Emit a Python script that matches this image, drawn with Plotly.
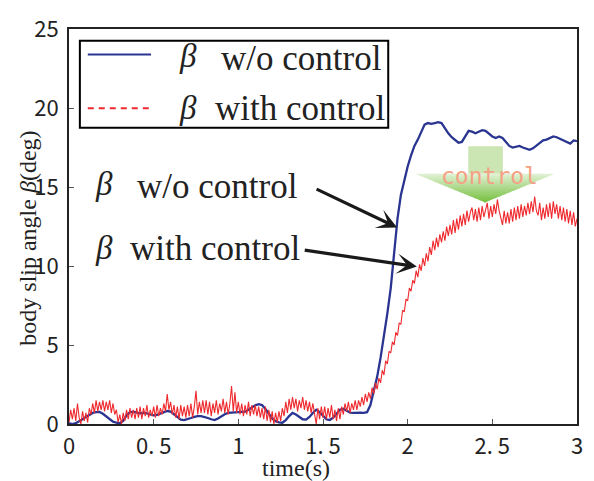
import numpy as np
import plotly.graph_objects as go

# ---------------- data ----------------
t_wo = np.round(np.arange(151) * 0.02, 2)          # time (s), 0.02 s steps
beta_wo = [
    0.05, 0.0, 0.05, 0.15, 0.3, 0.45, 0.6, 0.7, 0.75, 0.76,
    0.65, 0.5, 0.3, 0.15, 0.08, 0.05, 0.2, 0.55, 0.75, 0.78,
    0.72, 0.68, 0.7, 0.68, 0.6, 0.55, 0.58, 0.65, 0.75, 0.82,
    0.78, 0.6, 0.4, 0.27, 0.25, 0.3, 0.38, 0.45, 0.5, 0.5,
    0.45, 0.38, 0.3, 0.25, 0.35, 0.5, 0.62, 0.7, 0.72, 0.74,
    0.75, 0.76, 0.78, 0.9, 1.05, 1.18, 1.25, 1.2, 0.95, 0.65,
    0.35, 0.18, 0.1, 0.08, 0.25, 0.5, 0.7, 0.6, 0.45, 0.3,
    0.28, 0.45, 0.7, 0.9, 0.75, 0.5, 0.3, 0.25, 0.4, 0.65,
    0.9, 0.97, 0.85, 0.72, 0.7, 0.72, 0.72, 0.7, 0.75, 1.2,
    2.1, 3.0, 4.2, 5.5, 7.0, 8.6, 11.0, 13.0, 14.5, 15.5,
    16.3, 17.0, 17.6, 18.0, 18.5, 18.95, 19.05, 19.0, 19.05, 19.1,
    19.05, 18.7, 18.4, 18.15, 17.95, 17.8, 17.85, 18.2, 18.55, 18.5,
    18.4, 18.5, 18.6, 18.55, 18.35, 18.2, 18.1, 18.2, 18.1, 17.85,
    17.6, 17.5, 17.55, 17.6, 17.5, 17.4, 17.35, 17.45, 17.6, 17.8,
    17.95, 18.0, 18.1, 18.2, 18.15, 18.05, 18.0, 17.85, 17.75, 17.95,
    17.9,
]

t_with = np.round(np.arange(301) * 0.01, 2)        # time (s), 0.01 s steps
beta_with = [
    0.1, 0.9, 0.3, 1.0, 0.2, 1.3, 0.4, 0.0, 0.8, 0.2,
    0.7, 0.1, 1.0, 0.6, 1.3, 0.7, 1.5, 0.8, 1.4, 0.9,
    1.5, 0.8, 1.4, 0.9, 1.5, 0.7, 1.3, 0.6, 0.9, 0.1,
    0.6, 0.0, 0.7, 0.2, 0.9, 0.3, 1.0, 0.4, 0.9, 0.3,
    1.0, 0.4, 1.1, 0.3, 1.0, 0.5, 1.2, 0.4, 0.9, 0.5,
    1.1, 0.4, 1.2, 0.5, 1.0, 0.6, 1.3, 0.8, 1.9, 0.9,
    1.4, 0.6, 1.2, 0.4, 1.1, 0.3, 1.2, 0.5, 1.1, 0.4,
    1.2, 0.5, 1.3, 0.4, 1.1, 2.1, 0.6, 1.4, 0.7, 1.5,
    0.7, 1.5, 0.6, 1.4, 0.5, 1.3, 0.7, 1.5, 0.6, 1.3,
    0.8, 1.6, 0.7, 1.4, 0.6, 1.3, 2.4, 0.8, 2.0, 0.7,
    1.4, 0.6, 1.3, 0.5, 1.2, 0.6, 1.4, 0.5, 1.2, 0.6,
    1.2, 0.5, 1.1, 0.4, 1.0, 0.3, 1.1, 0.2, 0.9, 0.1,
    0.8, 0.0, 0.7, 0.1, 0.8, 0.2, 1.0, 0.5, 1.4, 0.7,
    1.6, 0.9, 1.7, 1.0, 1.6, 0.8, 1.5, 1.0, 1.7, 0.9,
    1.5, 0.8, 1.4, 0.7, 1.3, 0.6, 0.0, 1.0, 0.3, 1.1,
    0.4, 1.1, 0.3, 1.0, 0.4, 1.2, 0.3, 0.9, 0.2, 1.0,
    0.3, 1.1, 0.6, 1.3, 0.8, 1.4, 0.7, 1.3, 0.9, 1.5,
    0.9, 1.5, 1.1, 1.7, 1.2, 1.9, 1.4, 2.0, 1.6, 2.3,
    1.9, 2.6, 2.2, 2.9, 2.6, 3.4, 3.1, 4.0, 3.8, 4.6,
    4.5, 5.2, 5.0, 5.8, 5.6, 6.4, 6.3, 7.2, 7.1, 7.9,
    7.8, 8.6, 8.4, 9.1, 8.9, 9.7, 9.3, 10.1, 9.7, 10.5,
    10.0, 10.8, 10.3, 11.2, 10.7, 11.6, 11.0, 11.8, 11.2, 12.0,
    11.5, 12.2, 11.6, 12.5, 11.9, 12.6, 12.0, 12.9, 12.1, 13.0,
    12.3, 13.2, 12.5, 13.3, 12.6, 13.5, 12.8, 13.4, 13.7, 12.9,
    13.6, 12.8, 13.7, 12.9, 13.8, 13.1, 13.6, 14.0, 13.0, 13.8,
    13.1, 13.9, 13.3, 14.2, 13.5, 13.0, 12.6, 13.5, 12.7, 13.4,
    12.7, 13.6, 12.8, 13.7, 12.9, 13.8, 13.0, 13.9, 13.1, 13.8,
    13.2, 14.0, 13.3, 14.1, 13.4, 14.4, 13.5, 13.2, 14.0, 12.9,
    13.7, 13.0, 13.9, 13.1, 14.0, 13.0, 14.1, 13.3, 13.9, 13.0,
    13.8, 12.9, 13.7, 12.8, 13.6, 12.7, 13.5, 12.6, 13.4, 12.5,
    13.0,
]

x_tickvals = [0, 0.5, 1, 1.5, 2, 2.5, 3]
x_ticktext = ["0", "0. 5", "1", "1. 5", "2", "2. 5", "3"]
y_tickvals = [0, 5, 10, 15, 20, 25]

series_names = ["β  w/o control", "β  with control"]
x_title = "time(s)"
y_title_parts = ("body slip angle ", "β", "(deg)")
arrow_label = "control"

# ---------------- layout geometry (pixels) ----------------
W, H = 594, 481
L, R, T, B = 69, 583, 20, 424
XMAX, YMAX = 3.0, 25.0


def X(px):
    return (px - L) / (R - L) * XMAX


def Y(py):
    return (B - py) / (B - T) * YMAX


BLUE = "#2a3591"
RED = "#ee2a2e"
SERIF = "Liberation Serif, Times New Roman, serif"
TICKFONT = "Noto Sans CJK JP"
LABEL_SIZE = 35

fig = go.Figure()
fig.add_trace(go.Scatter(x=t_wo, y=beta_wo, mode="lines",
                         line=dict(color=BLUE, width=2.3),
                         name=series_names[0], showlegend=False))
fig.add_trace(go.Scatter(x=t_with, y=beta_with, mode="lines",
                         line=dict(color=RED, width=1.1),
                         name=series_names[1], showlegend=False))

shapes = []
annotations = []

# ---- manual legend ----
shapes.append(dict(type="rect", xref="x", yref="y", x0=X(80), x1=X(392), y0=Y(32), y1=Y(121),
                   line=dict(color="black", width=2), fillcolor="white", layer="above"))
shapes.append(dict(type="line", xref="x", yref="y", x0=X(88), x1=X(152), y0=Y(46), y1=Y(46),
                   line=dict(color=BLUE, width=2), layer="above"))
shapes.append(dict(type="line", xref="x", yref="y", x0=X(88), x1=X(152), y0=Y(101), y1=Y(101),
                   line=dict(color=RED, width=2, dash="6px,5px"), layer="above"))


def beta_text(px, py, size=LABEL_SIZE - 2):
    annotations.append(dict(xref="x", yref="y", x=X(px), y=Y(py), text="<i>β</i>",
                            showarrow=False, xanchor="center", yanchor="middle",
                            font=dict(family=SERIF, size=size, color="#222")))


def label_text(px, py, txt, size=LABEL_SIZE):
    annotations.append(dict(xref="x", yref="y", x=X(px), y=Y(py), text=txt,
                            showarrow=False, xanchor="left", yanchor="middle",
                            font=dict(family=SERIF, size=size, color="#222")))


leg_wo = series_names[0].split("  ")[1]
leg_with = series_names[1].split("  ")[1]
beta_text(189, 48)
label_text(221, 50, leg_wo)
beta_text(189, 101)
label_text(215, 101, leg_with)

# ---- in-plot labels with arrows ----
beta_text(104, 179)
label_text(136, 181, leg_wo)
beta_text(104, 244)
label_text(129, 245, leg_with)

for (tx, ty, hx, hy) in [(318, 183, 401, 223), (306, 246, 421, 263)]:
    annotations.append(dict(xref="x", yref="y", axref="x", ayref="y",
                            x=X(hx), y=Y(hy), ax=X(tx), ay=Y(ty), text="",
                            showarrow=True, arrowhead=3, arrowsize=1.05, arrowwidth=3.2,
                            arrowcolor="#1a1a1a"))

# ---- green gradient arrow "control" ----
shapes.append(dict(type="rect", xref="x", yref="y", x0=X(473), x1=X(508), y0=Y(140), y1=Y(168),
                   line=dict(width=0), fillcolor="#cbe5b3", layer="above"))
n_band = 14
top_y, tip_y = 168.0, 197.0
lx, rx, cx = 420.0, 560.0, 490.0
c0 = np.array([226, 242, 214])
c1 = np.array([118, 192, 62])
for i in range(n_band):
    ya = top_y + (tip_y - top_y) * i / n_band
    yb = top_y + (tip_y - top_y) * (i + 1) / n_band
    fa, fb = (ya - top_y) / (tip_y - top_y), (yb - top_y) / (tip_y - top_y)
    la, ra = lx + (cx - lx) * fa, rx + (cx - rx) * fa
    lb, rb = lx + (cx - lx) * fb, rx + (cx - rx) * fb
    col = c0 + (c1 - c0) * (i + 0.5) / n_band
    path = (f"M {X(la)},{Y(ya)} L {X(ra)},{Y(ya)} L {X(rb)},{Y(yb + 0.6)} "
            f"L {X(lb)},{Y(yb + 0.6)} Z")
    shapes.append(dict(type="path", xref="x", yref="y", path=path, line=dict(width=0),
                       fillcolor="rgb(%d,%d,%d)" % tuple(col.astype(int)), layer="above"))
annotations.append(dict(xref="x", yref="y", x=X(494), y=Y(170), text=arrow_label,
                        showarrow=False, xanchor="center", yanchor="middle",
                        font=dict(family="DejaVu Sans Mono", size=23, color="#f4a185")))

# ---- axis titles ----
annotations.append(dict(xref="x", yref="paper", x=X(299), y=(B - 469) / (B - T),
                        text=x_title, showarrow=False, xanchor="center", yanchor="middle",
                        font=dict(family=SERIF, size=24, color="#222")))
annotations.append(dict(xref="paper", yref="paper", x=(28 - L) / (R - L), y=(B - 234) / (B - T),
                        text=y_title_parts[0] + "<i>" + y_title_parts[1] + "</i>" + y_title_parts[2],
                        textangle=-90, showarrow=False, xanchor="center", yanchor="middle",
                        font=dict(family=SERIF, size=24, color="#222")))

fig.update_layout(
    width=W, height=H,
    margin=dict(l=L, r=W - R, t=T, b=H - B, pad=0),
    paper_bgcolor="white", plot_bgcolor="white",
    shapes=shapes, annotations=annotations, showlegend=False,
    xaxis=dict(range=[0, XMAX], tickvals=x_tickvals, ticktext=x_ticktext,
               ticks="inside", ticklen=5, tickwidth=1, tickcolor="#555",
               showline=True, linecolor="#222", linewidth=2, mirror=True,
               showgrid=False, zeroline=False, ticklabelstandoff=2,
               tickfont=dict(family=TICKFONT, size=22, color="#222")),
    yaxis=dict(range=[0, YMAX], tickvals=y_tickvals,
               ticks="inside", ticklen=5, tickwidth=1, tickcolor="#555",
               showline=True, linecolor="#222", linewidth=2, mirror=True,
               showgrid=False, zeroline=False, ticklabelstandoff=4,
               tickfont=dict(family=TICKFONT, size=22, color="#222")),
)

fig.write_html("out.html",
               config={"displayModeBar": False},
               post_script="document.body.style.margin='0px';"
                           "document.body.style.overflow='hidden';")
